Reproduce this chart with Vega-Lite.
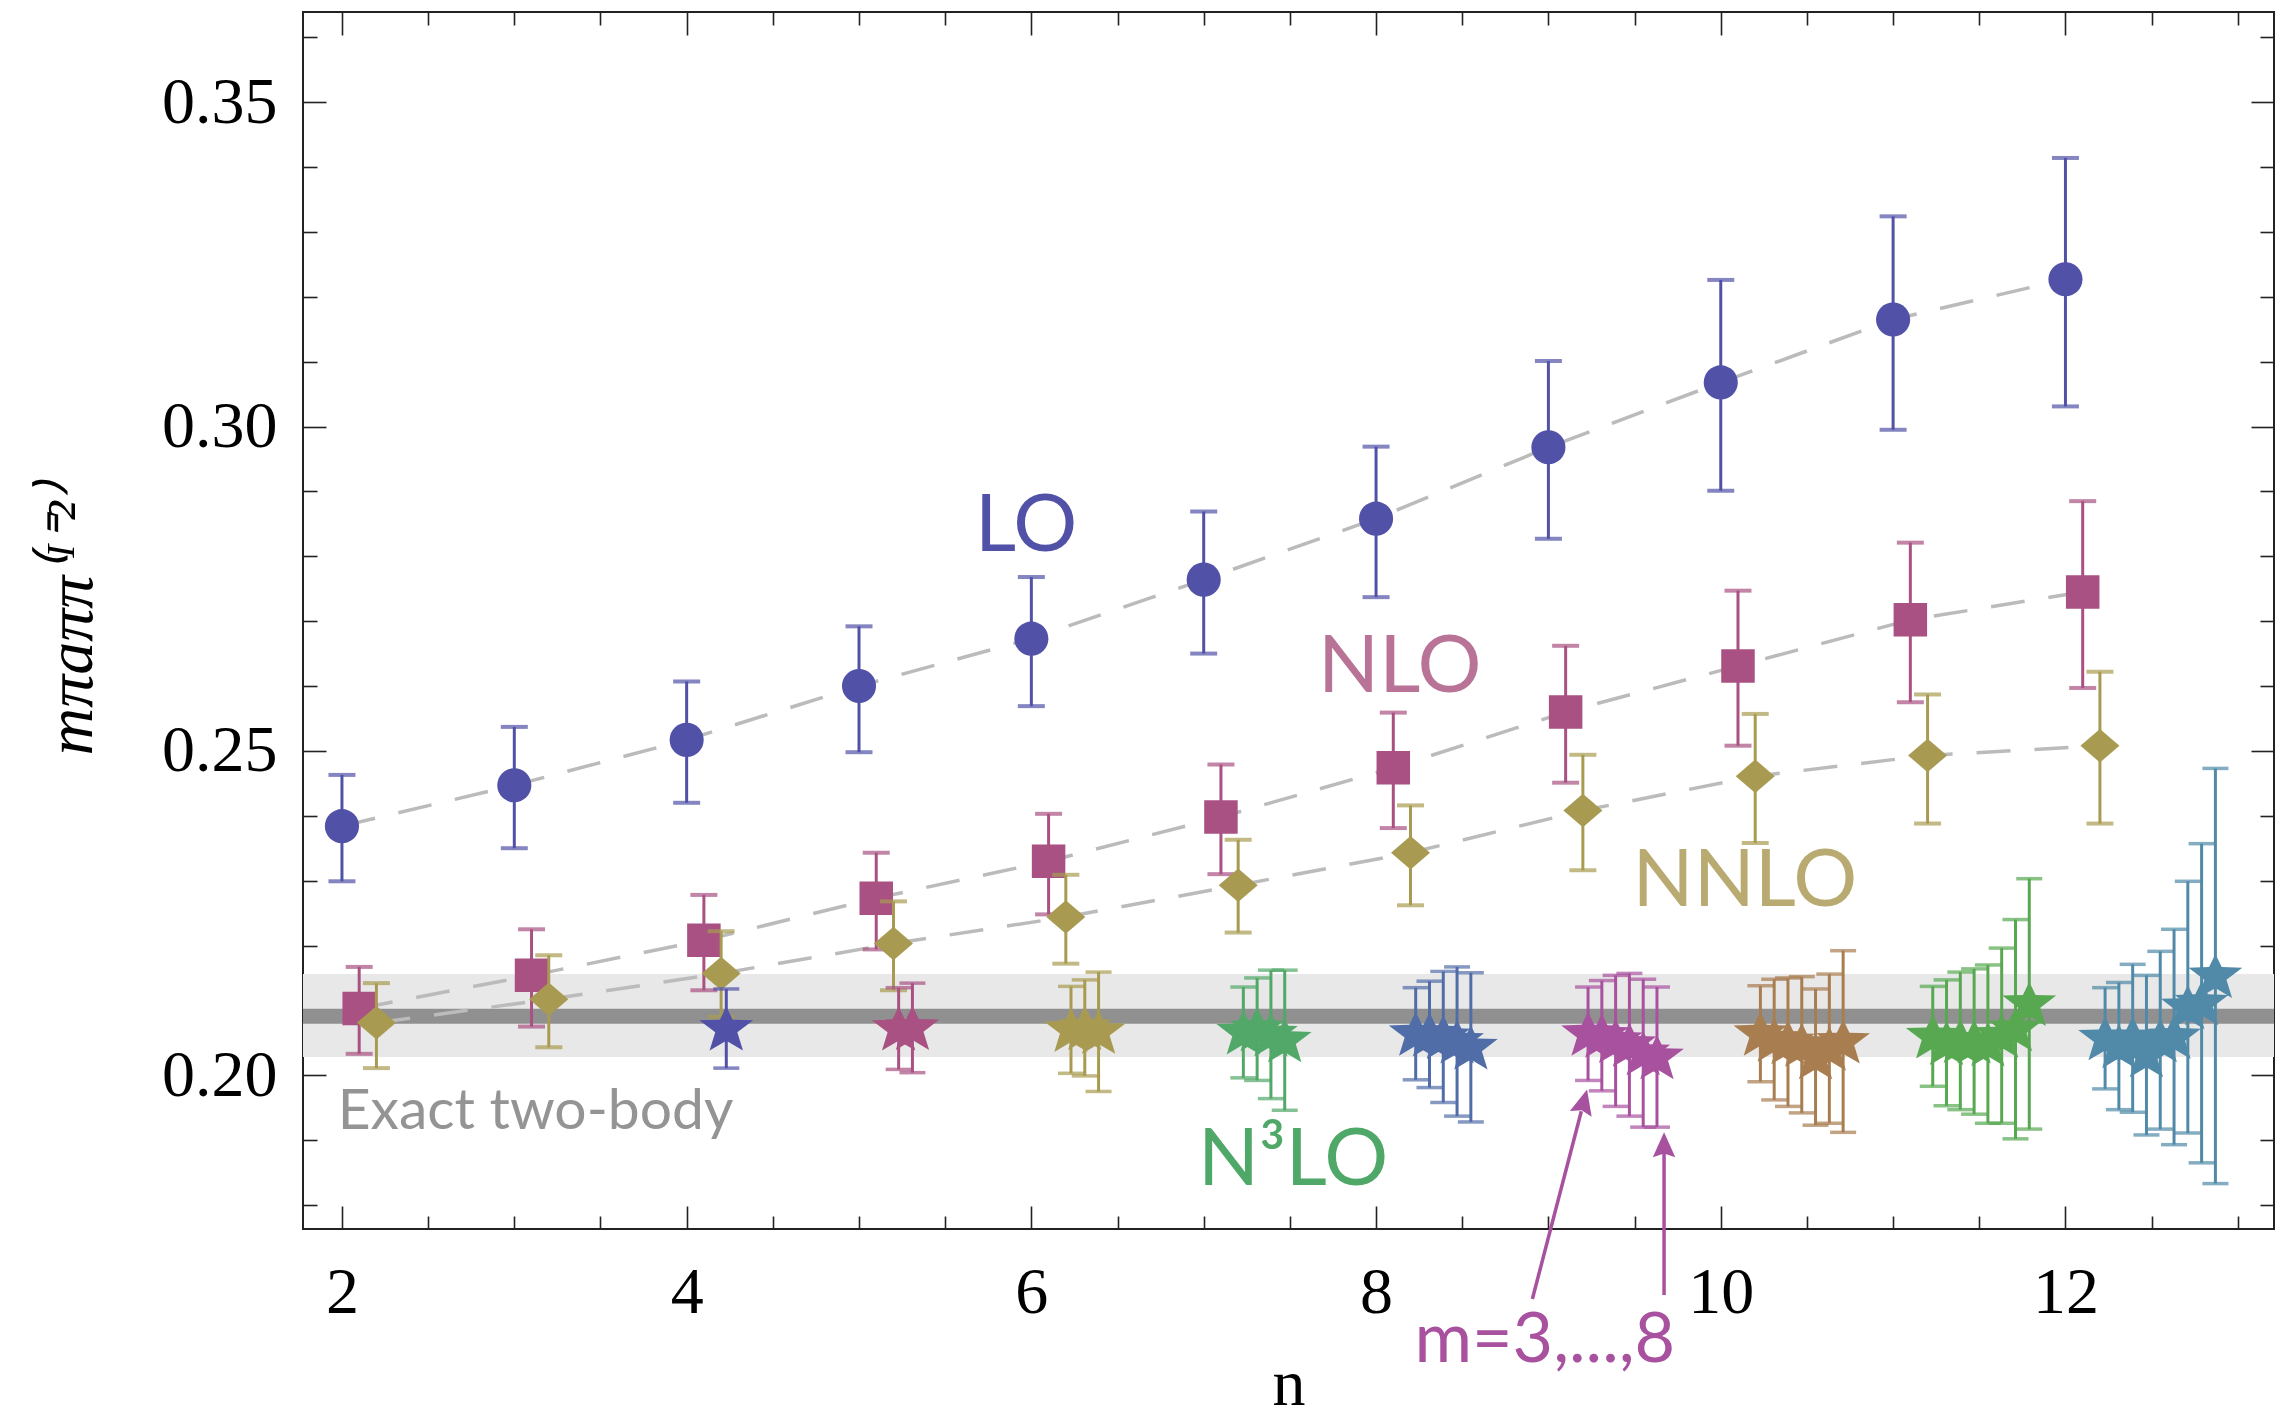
{
  "$schema": "https://vega.github.io/schema/vega-lite/v6.json",
  "width": 1971,
  "height": 1217,
  "autosize": {"type": "none"},
  "padding": {"left": 303, "top": 12, "right": 9, "bottom": 195},
  "background": "white",
  "config": {
    "view": {"stroke": "#222222", "strokeWidth": 2},
    "axis": {
      "domain": false, "grid": false, "tickColor": "#222222", "tickWidth": 1.6,
      "labelFont": "Liberation Serif", "labelFontSize": 66, "labelColor": "#000000",
      "labelOverlap": false, "labelFlush": false,
      "titleFont": "Liberation Serif", "titleColor": "#000000", "titleFontWeight": "normal"
    }
  },
  "datasets": {
    "series": [
      {"set": "LO", "x": 2, "v": 0.2384, "lo": 0.2299, "hi": 0.2463},
      {"set": "LO", "x": 3, "v": 0.2447, "lo": 0.2350, "hi": 0.2537},
      {"set": "LO", "x": 4, "v": 0.2517, "lo": 0.2420, "hi": 0.2607},
      {"set": "LO", "x": 5, "v": 0.2600, "lo": 0.2498, "hi": 0.2692},
      {"set": "LO", "x": 6, "v": 0.2673, "lo": 0.2569, "hi": 0.2768},
      {"set": "LO", "x": 7, "v": 0.2764, "lo": 0.2650, "hi": 0.2869},
      {"set": "LO", "x": 8, "v": 0.2858, "lo": 0.2737, "hi": 0.2969},
      {"set": "LO", "x": 9, "v": 0.2968, "lo": 0.2827, "hi": 0.3101},
      {"set": "LO", "x": 10, "v": 0.3068, "lo": 0.2901, "hi": 0.3226},
      {"set": "LO", "x": 11, "v": 0.3165, "lo": 0.2995, "hi": 0.3324},
      {"set": "LO", "x": 12, "v": 0.3227, "lo": 0.3031, "hi": 0.3414},
      {"set": "NLO", "x": 2.1, "v": 0.2103, "lo": 0.2033, "hi": 0.2167},
      {"set": "NLO", "x": 3.1, "v": 0.2154, "lo": 0.2075, "hi": 0.2225},
      {"set": "NLO", "x": 4.1, "v": 0.2208, "lo": 0.2131, "hi": 0.2278},
      {"set": "NLO", "x": 5.1, "v": 0.2273, "lo": 0.2194, "hi": 0.2343},
      {"set": "NLO", "x": 6.1, "v": 0.2330, "lo": 0.2248, "hi": 0.2403},
      {"set": "NLO", "x": 7.1, "v": 0.2398, "lo": 0.2310, "hi": 0.2479},
      {"set": "NLO", "x": 8.1, "v": 0.2474, "lo": 0.2381, "hi": 0.2559},
      {"set": "NLO", "x": 9.1, "v": 0.2560, "lo": 0.2451, "hi": 0.2662},
      {"set": "NLO", "x": 10.1, "v": 0.2631, "lo": 0.2508, "hi": 0.2747},
      {"set": "NLO", "x": 11.1, "v": 0.2702, "lo": 0.2575, "hi": 0.2821},
      {"set": "NLO", "x": 12.1, "v": 0.2745, "lo": 0.2597, "hi": 0.2885},
      {"set": "NNLO", "x": 2.2, "v": 0.2081, "lo": 0.2011, "hi": 0.2142},
      {"set": "NNLO", "x": 3.2, "v": 0.2117, "lo": 0.2043, "hi": 0.2185},
      {"set": "NNLO", "x": 4.2, "v": 0.2157, "lo": 0.2090, "hi": 0.2222},
      {"set": "NNLO", "x": 5.2, "v": 0.2203, "lo": 0.2131, "hi": 0.2268},
      {"set": "NNLO", "x": 6.2, "v": 0.2244, "lo": 0.2172, "hi": 0.2309},
      {"set": "NNLO", "x": 7.2, "v": 0.2293, "lo": 0.2220, "hi": 0.2363},
      {"set": "NNLO", "x": 8.2, "v": 0.2343, "lo": 0.2262, "hi": 0.2416},
      {"set": "NNLO", "x": 9.2, "v": 0.2408, "lo": 0.2316, "hi": 0.2494},
      {"set": "NNLO", "x": 10.2, "v": 0.2461, "lo": 0.2358, "hi": 0.2557},
      {"set": "NNLO", "x": 11.2, "v": 0.2493, "lo": 0.2388, "hi": 0.2587},
      {"set": "NNLO", "x": 12.2, "v": 0.2508, "lo": 0.2388, "hi": 0.2622}
    ],
    "stars": [
      {"set": "4", "x": 4.23, "v": 0.2072, "lo": 0.2011, "hi": 0.2133},
      {"set": "5", "x": 5.23, "v": 0.2072, "lo": 0.2009, "hi": 0.2135},
      {"set": "5", "x": 5.31, "v": 0.2073, "lo": 0.2004, "hi": 0.2142},
      {"set": "6", "x": 6.23, "v": 0.2070, "lo": 0.2003, "hi": 0.2137},
      {"set": "6", "x": 6.31, "v": 0.2073, "lo": 0.1999, "hi": 0.2147},
      {"set": "6", "x": 6.39, "v": 0.2067, "lo": 0.1975, "hi": 0.2159},
      {"set": "7", "x": 7.23, "v": 0.2066, "lo": 0.1996, "hi": 0.2136},
      {"set": "7", "x": 7.31, "v": 0.2071, "lo": 0.1992, "hi": 0.2150},
      {"set": "7", "x": 7.39, "v": 0.2063, "lo": 0.1964, "hi": 0.2162},
      {"set": "7", "x": 7.47, "v": 0.2054, "lo": 0.1946, "hi": 0.2162},
      {"set": "8", "x": 8.23, "v": 0.2064, "lo": 0.1993, "hi": 0.2135},
      {"set": "8", "x": 8.31, "v": 0.2063, "lo": 0.1981, "hi": 0.2145},
      {"set": "8", "x": 8.39, "v": 0.2059, "lo": 0.1958, "hi": 0.2160},
      {"set": "8", "x": 8.47, "v": 0.2052, "lo": 0.1937, "hi": 0.2167},
      {"set": "8", "x": 8.55, "v": 0.2043, "lo": 0.1928, "hi": 0.2158},
      {"set": "9", "x": 9.23, "v": 0.2064, "lo": 0.1992, "hi": 0.2136},
      {"set": "9", "x": 9.31, "v": 0.2061, "lo": 0.1976, "hi": 0.2146},
      {"set": "9", "x": 9.39, "v": 0.2053, "lo": 0.1952, "hi": 0.2154},
      {"set": "9", "x": 9.47, "v": 0.2047, "lo": 0.1937, "hi": 0.2157},
      {"set": "9", "x": 9.55, "v": 0.2034, "lo": 0.1920, "hi": 0.2148},
      {"set": "9", "x": 9.63, "v": 0.2028, "lo": 0.1920, "hi": 0.2136},
      {"set": "10", "x": 10.23, "v": 0.2064, "lo": 0.1990, "hi": 0.2138},
      {"set": "10", "x": 10.31, "v": 0.2055, "lo": 0.1962, "hi": 0.2148},
      {"set": "10", "x": 10.39, "v": 0.2051, "lo": 0.1952, "hi": 0.2150},
      {"set": "10", "x": 10.47, "v": 0.2047, "lo": 0.1942, "hi": 0.2152},
      {"set": "10", "x": 10.55, "v": 0.2028, "lo": 0.1923, "hi": 0.2133},
      {"set": "10", "x": 10.63, "v": 0.2041, "lo": 0.1926, "hi": 0.2156},
      {"set": "10", "x": 10.71, "v": 0.2052, "lo": 0.1912, "hi": 0.2192},
      {"set": "11", "x": 11.23, "v": 0.2060, "lo": 0.1983, "hi": 0.2137},
      {"set": "11", "x": 11.31, "v": 0.2050, "lo": 0.1953, "hi": 0.2147},
      {"set": "11", "x": 11.39, "v": 0.2053, "lo": 0.1947, "hi": 0.2159},
      {"set": "11", "x": 11.47, "v": 0.2052, "lo": 0.1940, "hi": 0.2164},
      {"set": "11", "x": 11.55, "v": 0.2048, "lo": 0.1926, "hi": 0.2170},
      {"set": "11", "x": 11.63, "v": 0.2061, "lo": 0.1926, "hi": 0.2196},
      {"set": "11", "x": 11.71, "v": 0.2071, "lo": 0.1902, "hi": 0.2240},
      {"set": "11", "x": 11.79, "v": 0.2110, "lo": 0.1917, "hi": 0.2303},
      {"set": "12", "x": 12.23, "v": 0.2057, "lo": 0.1979, "hi": 0.2135},
      {"set": "12", "x": 12.31, "v": 0.2045, "lo": 0.1947, "hi": 0.2143},
      {"set": "12", "x": 12.39, "v": 0.2057, "lo": 0.1943, "hi": 0.2171},
      {"set": "12", "x": 12.47, "v": 0.2031, "lo": 0.1908, "hi": 0.2154},
      {"set": "12", "x": 12.55, "v": 0.2054, "lo": 0.1917, "hi": 0.2191},
      {"set": "12", "x": 12.63, "v": 0.2059, "lo": 0.1893, "hi": 0.2225},
      {"set": "12", "x": 12.71, "v": 0.2105, "lo": 0.1911, "hi": 0.2299},
      {"set": "12", "x": 12.79, "v": 0.2111, "lo": 0.1865, "hi": 0.2357},
      {"set": "12", "x": 12.87, "v": 0.2153, "lo": 0.1833, "hi": 0.2473}
    ],
    "exact": [{"v": 0.2091, "lo": 0.2028, "hi": 0.2156}],
    "arrows": [
      {"x": 8.907, "v": 0.16551, "x2": 9.191, "v2": 0.19446},
      {"x": 9.671, "v": 0.16612, "x2": 9.671, "v2": 0.18860}
    ]
  },
  "layer": [
    {
      "data": {"name": "exact"},
      "mark": {"type": "rect", "color": "#E8E8E8"},
      "encoding": {
        "y": {"field": "lo", "type": "quantitative", "scale": {"domain": [0.1763, 0.3639], "nice": false, "zero": false}, "axis": null},
        "y2": {"field": "hi"}
      }
    },
    {
      "data": {"name": "exact"},
      "mark": {"type": "rule", "color": "#909090", "strokeWidth": 15},
      "encoding": {
        "y": {"field": "v", "type": "quantitative", "scale": {"domain": [0.1763, 0.3639], "nice": false, "zero": false}, "axis": null}
      }
    },
    {
      "data": {"name": "series"},
      "mark": {"type": "line", "color": "#BBBBBB", "strokeWidth": 3.5, "strokeDash": [34, 24]},
      "encoding": {
        "x": {"field": "x", "type": "quantitative", "scale": {"domain": [1.774, 13.21], "nice": false, "zero": false},
          "axis": {"orient": "bottom", "values": [2, 2.5, 3, 3.5, 4, 4.5, 5, 5.5, 6, 6.5, 7, 7.5, 8, 8.5, 9, 9.5, 10, 10.5, 11, 11.5, 12, 12.5, 13],
            "tickSize": {"condition": {"test": "datum.value % 2 == 0", "value": -23}, "value": -13},
            "format": "~g", "labelExpr": "datum.value % 2 == 0 ? datum.label : ''",
            "labelPadding": 54, "title": "n", "titleFontSize": 66, "titlePadding": 17}},
        "y": {"field": "v", "type": "quantitative", "scale": {"domain": [0.1763, 0.3639], "nice": false, "zero": false},
          "axis": {"orient": "left", "values": [0.18, 0.19, 0.2, 0.21, 0.22, 0.23, 0.24, 0.25, 0.26, 0.27, 0.28, 0.29, 0.3, 0.31, 0.32, 0.33, 0.34, 0.35, 0.36],
            "tickSize": {"condition": {"test": "datum.value == 0.2 || datum.value == 0.25 || datum.value == 0.3 || datum.value == 0.35", "value": -23}, "value": -14},
            "format": ".2f", "labelExpr": "(datum.value == 0.2 || datum.value == 0.25 || datum.value == 0.3 || datum.value == 0.35) ? datum.label : ''",
            "labelPadding": 49, "title": "mπaππ⁽ᴵ⁼²⁾", "titleFontSize": 66, "titleFontStyle": "italic", "titlePadding": 56}},
        "detail": {"field": "set", "type": "nominal"}
      }
    },
    {
      "data": {"name": "series"},
      "mark": {"type": "point", "opacity": 0},
      "encoding": {
        "x": {"field": "x", "type": "quantitative", "scale": {"domain": [1.774, 13.21], "nice": false, "zero": false},
          "axis": {"orient": "top", "values": [2, 2.5, 3, 3.5, 4, 4.5, 5, 5.5, 6, 6.5, 7, 7.5, 8, 8.5, 9, 9.5, 10, 10.5, 11, 11.5, 12, 12.5, 13],
            "tickSize": {"condition": {"test": "datum.value % 2 == 0", "value": -23}, "value": -13},
            "labels": false, "title": null}},
        "y": {"field": "v", "type": "quantitative", "scale": {"domain": [0.1763, 0.3639], "nice": false, "zero": false},
          "axis": {"orient": "right", "values": [0.18, 0.19, 0.2, 0.21, 0.22, 0.23, 0.24, 0.25, 0.26, 0.27, 0.28, 0.29, 0.3, 0.31, 0.32, 0.33, 0.34, 0.35, 0.36],
            "tickSize": {"condition": {"test": "datum.value == 0.2 || datum.value == 0.25 || datum.value == 0.3 || datum.value == 0.35", "value": -23}, "value": -14},
            "labels": false, "title": null}}
      }
    },
    {
      "data": {"name": "series"},
      "transform": [{"filter": "datum.set == 'LO'"}],
      "encoding": {
        "x": {"field": "x", "type": "quantitative", "scale": {"domain": [1.774, 13.21], "nice": false, "zero": false}, "axis": null},
        "color": {"field": "set", "type": "nominal", "legend": null,
          "scale": {"domain": ["LO", "NLO", "NNLO", "4", "5", "6", "7", "8", "9", "10", "11", "12"],
            "range": ["#5151A8", "#A85182", "#A89B51", "#5151A8", "#A85182", "#A89B51", "#51A868", "#516DA8", "#A8519F", "#A87E51", "#57A851", "#518AA8"]}}
      },
      "layer": [
        {"mark": {"type": "rule", "strokeWidth": 3},
          "encoding": {"y": {"field": "lo", "type": "quantitative", "scale": {"domain": [0.1763, 0.3639], "nice": false, "zero": false}, "axis": null}, "y2": {"field": "hi"}}},
        {"mark": {"type": "tick", "orient": "horizontal", "size": 27, "thickness": 4},
          "encoding": {"y": {"field": "lo", "type": "quantitative", "scale": {"domain": [0.1763, 0.3639], "nice": false, "zero": false}, "axis": null}}},
        {"mark": {"type": "tick", "orient": "horizontal", "size": 27, "thickness": 4},
          "encoding": {"y": {"field": "hi", "type": "quantitative", "scale": {"domain": [0.1763, 0.3639], "nice": false, "zero": false}, "axis": null}}},
        {"mark": {"type": "point", "shape": "circle", "filled": true, "opacity": 1, "size": 1164},
          "encoding": {"y": {"field": "v", "type": "quantitative", "scale": {"domain": [0.1763, 0.3639], "nice": false, "zero": false}, "axis": null}}}
      ]
    },
    {
      "data": {"name": "series"},
      "transform": [{"filter": "datum.set == 'NLO'"}],
      "encoding": {
        "x": {"field": "x", "type": "quantitative", "scale": {"domain": [1.774, 13.21], "nice": false, "zero": false}, "axis": null},
        "color": {"field": "set", "type": "nominal", "legend": null,
          "scale": {"domain": ["LO", "NLO", "NNLO", "4", "5", "6", "7", "8", "9", "10", "11", "12"],
            "range": ["#5151A8", "#A85182", "#A89B51", "#5151A8", "#A85182", "#A89B51", "#51A868", "#516DA8", "#A8519F", "#A87E51", "#57A851", "#518AA8"]}}
      },
      "layer": [
        {"mark": {"type": "rule", "strokeWidth": 3},
          "encoding": {"y": {"field": "lo", "type": "quantitative", "scale": {"domain": [0.1763, 0.3639], "nice": false, "zero": false}, "axis": null}, "y2": {"field": "hi"}}},
        {"mark": {"type": "tick", "orient": "horizontal", "size": 27, "thickness": 4},
          "encoding": {"y": {"field": "lo", "type": "quantitative", "scale": {"domain": [0.1763, 0.3639], "nice": false, "zero": false}, "axis": null}}},
        {"mark": {"type": "tick", "orient": "horizontal", "size": 27, "thickness": 4},
          "encoding": {"y": {"field": "hi", "type": "quantitative", "scale": {"domain": [0.1763, 0.3639], "nice": false, "zero": false}, "axis": null}}},
        {"mark": {"type": "point", "shape": "square", "filled": true, "opacity": 1, "size": 1122},
          "encoding": {"y": {"field": "v", "type": "quantitative", "scale": {"domain": [0.1763, 0.3639], "nice": false, "zero": false}, "axis": null}}}
      ]
    },
    {
      "data": {"name": "series"},
      "transform": [{"filter": "datum.set == 'NNLO'"}],
      "encoding": {
        "x": {"field": "x", "type": "quantitative", "scale": {"domain": [1.774, 13.21], "nice": false, "zero": false}, "axis": null},
        "color": {"field": "set", "type": "nominal", "legend": null,
          "scale": {"domain": ["LO", "NLO", "NNLO", "4", "5", "6", "7", "8", "9", "10", "11", "12"],
            "range": ["#5151A8", "#A85182", "#A89B51", "#5151A8", "#A85182", "#A89B51", "#51A868", "#516DA8", "#A8519F", "#A87E51", "#57A851", "#518AA8"]}}
      },
      "layer": [
        {"mark": {"type": "rule", "strokeWidth": 3},
          "encoding": {"y": {"field": "lo", "type": "quantitative", "scale": {"domain": [0.1763, 0.3639], "nice": false, "zero": false}, "axis": null}, "y2": {"field": "hi"}}},
        {"mark": {"type": "tick", "orient": "horizontal", "size": 27, "thickness": 4},
          "encoding": {"y": {"field": "lo", "type": "quantitative", "scale": {"domain": [0.1763, 0.3639], "nice": false, "zero": false}, "axis": null}}},
        {"mark": {"type": "tick", "orient": "horizontal", "size": 27, "thickness": 4},
          "encoding": {"y": {"field": "hi", "type": "quantitative", "scale": {"domain": [0.1763, 0.3639], "nice": false, "zero": false}, "axis": null}}},
        {"mark": {"type": "point", "shape": "M-1,0L0,-0.86L1,0L0,0.86Z", "filled": true, "opacity": 1, "size": 1521},
          "encoding": {"y": {"field": "v", "type": "quantitative", "scale": {"domain": [0.1763, 0.3639], "nice": false, "zero": false}, "axis": null}}}
      ]
    },
    {
      "data": {"name": "stars"},
      "encoding": {
        "x": {"field": "x", "type": "quantitative", "scale": {"domain": [1.774, 13.21], "nice": false, "zero": false}, "axis": null},
        "color": {"field": "set", "type": "nominal", "legend": null,
          "scale": {"domain": ["LO", "NLO", "NNLO", "4", "5", "6", "7", "8", "9", "10", "11", "12"],
            "range": ["#5151A8", "#A85182", "#A89B51", "#5151A8", "#A85182", "#A89B51", "#51A868", "#516DA8", "#A8519F", "#A87E51", "#57A851", "#518AA8"]}}
      },
      "layer": [
        {"mark": {"type": "rule", "strokeWidth": 3},
          "encoding": {"y": {"field": "lo", "type": "quantitative", "scale": {"domain": [0.1763, 0.3639], "nice": false, "zero": false}, "axis": null}, "y2": {"field": "hi"}}},
        {"mark": {"type": "tick", "orient": "horizontal", "size": 26, "thickness": 3.5},
          "encoding": {"y": {"field": "lo", "type": "quantitative", "scale": {"domain": [0.1763, 0.3639], "nice": false, "zero": false}, "axis": null}}},
        {"mark": {"type": "tick", "orient": "horizontal", "size": 26, "thickness": 3.5},
          "encoding": {"y": {"field": "hi", "type": "quantitative", "scale": {"domain": [0.1763, 0.3639], "nice": false, "zero": false}, "axis": null}}},
        {"mark": {"type": "point", "shape": "M0,-0.82L0.235,-0.33L1,-0.31L0.41,0.14L0.62,0.82L0,0.45L-0.62,0.82L-0.41,0.14L-1,-0.31L-0.235,-0.33Z", "filled": true, "opacity": 1, "size": 2900},
          "encoding": {"y": {"field": "v", "type": "quantitative", "scale": {"domain": [0.1763, 0.3639], "nice": false, "zero": false}, "axis": null}}}
      ]
    },
    {
      "data": {"name": "arrows"},
      "mark": {"type": "rule", "color": "#A8519F", "strokeWidth": 3.5},
      "encoding": {
        "x": {"field": "x", "type": "quantitative", "scale": {"domain": [1.774, 13.21], "nice": false, "zero": false}, "axis": null},
        "y": {"field": "v", "type": "quantitative", "scale": {"domain": [0.1763, 0.3639], "nice": false, "zero": false}, "axis": null},
        "x2": {"field": "x2"},
        "y2": {"field": "v2"}
      }
    },
    {
      "data": {"values": [{"x": 9.206, "v": 0.19592}]},
      "mark": {"type": "point", "shape": "M0,-1L0.9,1L0,0.7L-0.9,1Z", "filled": true, "opacity": 1, "color": "#A8519F", "size": 625, "angle": 14.6},
      "encoding": {
        "x": {"field": "x", "type": "quantitative", "scale": {"domain": [1.774, 13.21], "nice": false, "zero": false}, "axis": null},
        "y": {"field": "v", "type": "quantitative", "scale": {"domain": [0.1763, 0.3639], "nice": false, "zero": false}, "axis": null}
      }
    },
    {
      "data": {"values": [{"x": 9.671, "v": 0.18927}]},
      "mark": {"type": "point", "shape": "M0,-1L0.9,1L0,0.7L-0.9,1Z", "filled": true, "opacity": 1, "color": "#A8519F", "size": 625, "angle": 0},
      "encoding": {
        "x": {"field": "x", "type": "quantitative", "scale": {"domain": [1.774, 13.21], "nice": false, "zero": false}, "axis": null},
        "y": {"field": "v", "type": "quantitative", "scale": {"domain": [0.1763, 0.3639], "nice": false, "zero": false}, "axis": null}
      }
    },
    {
      "data": {"values": [{"x": 5.970, "v": 0.28084, "t": "LO"}]},
      "mark": {"type": "text", "font": "Lato", "fontSize": 80, "color": "#5151A8", "align": "center", "baseline": "alphabetic"},
      "encoding": {
        "x": {"field": "x", "type": "quantitative", "scale": {"domain": [1.774, 13.21], "nice": false, "zero": false}, "axis": null},
        "y": {"field": "v", "type": "quantitative", "scale": {"domain": [0.1763, 0.3639], "nice": false, "zero": false}, "axis": null},
        "text": {"field": "t"}
      }
    },
    {
      "data": {"values": [{"x": 8.138, "v": 0.25909, "t": "NLO"}]},
      "mark": {"type": "text", "font": "Lato", "fontSize": 80, "color": "#B87396", "align": "center", "baseline": "alphabetic"},
      "encoding": {
        "x": {"field": "x", "type": "quantitative", "scale": {"domain": [1.774, 13.21], "nice": false, "zero": false}, "axis": null},
        "y": {"field": "v", "type": "quantitative", "scale": {"domain": [0.1763, 0.3639], "nice": false, "zero": false}, "axis": null},
        "text": {"field": "t"}
      }
    },
    {
      "data": {"values": [{"x": 10.14, "v": 0.22602, "t": "NNLO"}]},
      "mark": {"type": "text", "font": "Lato", "fontSize": 80, "color": "#B8AA70", "align": "center", "baseline": "alphabetic"},
      "encoding": {
        "x": {"field": "x", "type": "quantitative", "scale": {"domain": [1.774, 13.21], "nice": false, "zero": false}, "axis": null},
        "y": {"field": "v", "type": "quantitative", "scale": {"domain": [0.1763, 0.3639], "nice": false, "zero": false}, "axis": null},
        "text": {"field": "t"}
      }
    },
    {
      "data": {"values": [{"x": 7.519, "v": 0.18306, "t": "N³LO"}]},
      "mark": {"type": "text", "font": "Lato", "fontSize": 80, "color": "#4FA868", "align": "center", "baseline": "alphabetic"},
      "encoding": {
        "x": {"field": "x", "type": "quantitative", "scale": {"domain": [1.774, 13.21], "nice": false, "zero": false}, "axis": null},
        "y": {"field": "v", "type": "quantitative", "scale": {"domain": [0.1763, 0.3639], "nice": false, "zero": false}, "axis": null},
        "text": {"field": "t"}
      }
    },
    {
      "data": {"values": [{"x": 1.975, "v": 0.19168, "t": "Exact two-body"}]},
      "mark": {"type": "text", "font": "Lato", "fontSize": 57, "color": "#949494", "align": "left", "baseline": "alphabetic"},
      "encoding": {
        "x": {"field": "x", "type": "quantitative", "scale": {"domain": [1.774, 13.21], "nice": false, "zero": false}, "axis": null},
        "y": {"field": "v", "type": "quantitative", "scale": {"domain": [0.1763, 0.3639], "nice": false, "zero": false}, "axis": null},
        "text": {"field": "t"}
      }
    },
    {
      "data": {"values": [{"x": 8.979, "v": 0.15581, "t": "m=3,...,8"}]},
      "mark": {"type": "text", "font": "Lato", "fontSize": 70, "color": "#A8519F", "align": "center", "baseline": "alphabetic"},
      "encoding": {
        "x": {"field": "x", "type": "quantitative", "scale": {"domain": [1.774, 13.21], "nice": false, "zero": false}, "axis": null},
        "y": {"field": "v", "type": "quantitative", "scale": {"domain": [0.1763, 0.3639], "nice": false, "zero": false}, "axis": null},
        "text": {"field": "t"}
      }
    }
  ],
  "resolve": {"axis": {"x": "independent", "y": "independent"}}
}
